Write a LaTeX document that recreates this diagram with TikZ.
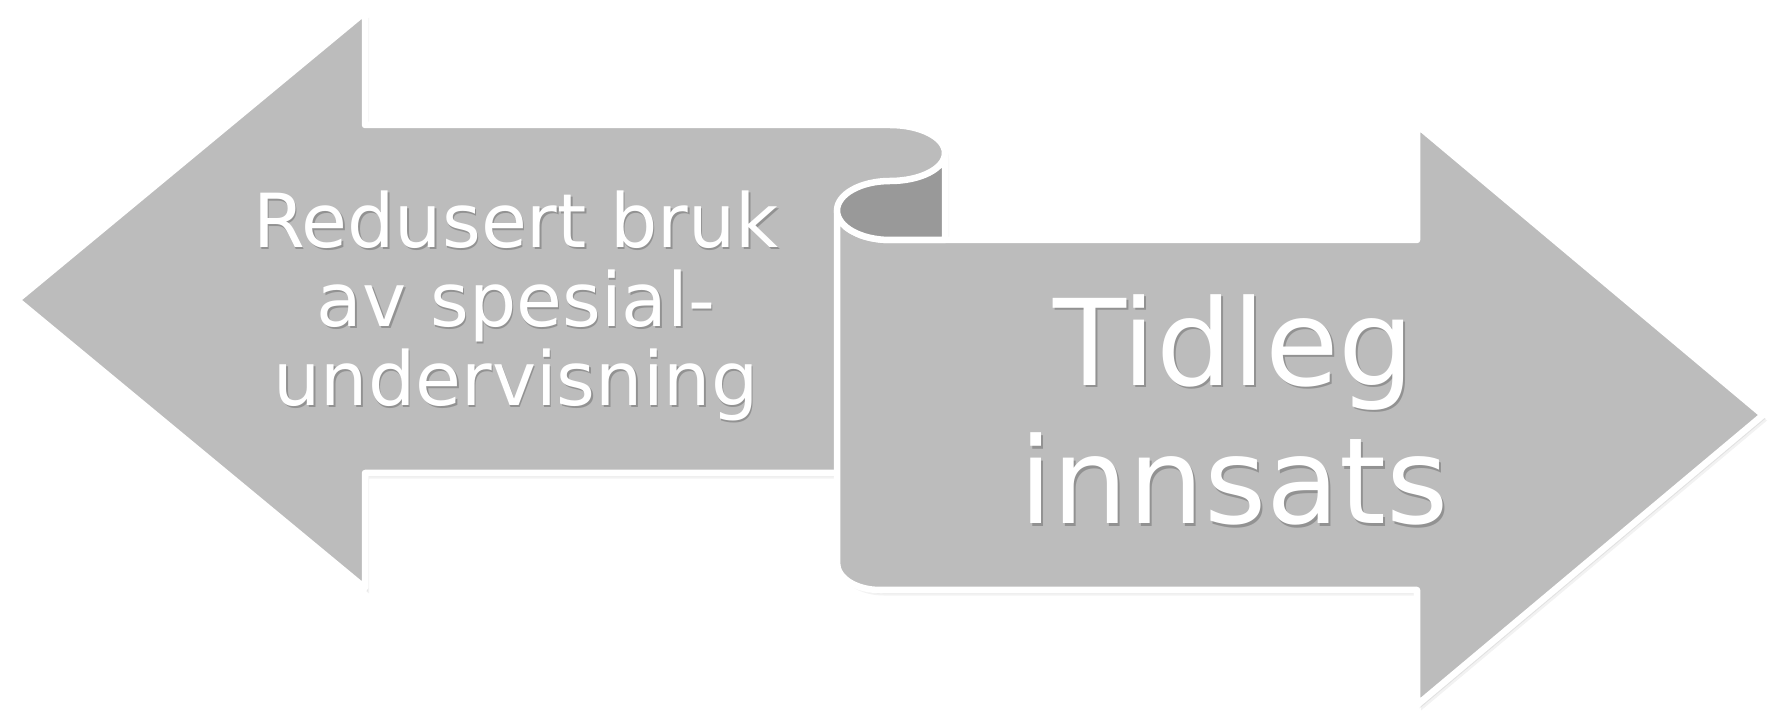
\documentclass[tikz,border=0pt]{standalone}
\usepackage{fontspec}
\setmainfont{DejaVu Sans}
\usetikzlibrary{shadows}
\definecolor{arrowfill}{RGB}{188,188,188}
\definecolor{curlfill}{RGB}{153,153,153}
\begin{document}
\begin{tikzpicture}[x=0.01cm,y=-0.01cm,
  softshadow/.style={
    drop shadow={shadow xshift=0.012cm, shadow yshift=-0.018cm, opacity=0.07, fill=black},
    drop shadow={shadow xshift=0.025cm, shadow yshift=-0.035cm, opacity=0.07, fill=black},
    drop shadow={shadow xshift=0.04cm, shadow yshift=-0.055cm, opacity=0.05, fill=black}},
  arrowbody/.style={fill=arrowfill, draw=white, line width=1.85pt, line join=round, softshadow},
  curlbody/.style={fill=curlfill, draw=white, line width=1.85pt, line join=round},
  lbl/.style={text=white, align=center, inner sep=0pt},
  lblshadow/.style={text=black, opacity=0.22, align=center, inner sep=0pt},
  smallfont/.style={font=\fontsize{21.2}{22.4}\selectfont},
  bigfont/.style={font=\fontsize{34}{39.4}\selectfont}]
\useasboundingbox (0,0) rectangle (1777,716);
% left arrow
\path[arrowbody] (17,300) -- (365,12) -- (365,125) -- (890,125)
  .. controls (920.4,125) and (945,137.5) .. (945,153) -- (945,473)
  -- (365,473) -- (365,588) -- cycle;
% right arrow with rolled left edge
\path[arrowbody] (837,210.5) -- (837,563) .. controls (837,578) and (856,590) .. (880,590)
  -- (1417,590) -- (1417,705) -- (1763,415) -- (1417,125) -- (1417,240) -- (890,240)
  .. controls (860.7,240) and (837,226.8) .. (837,210.5) -- cycle;
% inside of the curl
\path[curlbody] (945,153) .. controls (945,168.5) and (920.4,181) .. (890,181)
  .. controls (860.7,181) and (837,194.2) .. (837,210.5)
  .. controls (837,226.8) and (860.7,240) .. (890,240) -- (945,240) -- cycle;
% texts
\node[lblshadow, smallfont] (lshadow) at (517.5,308) {Redusert bruk\\av spesial-\\undervisning};
\node[lbl, smallfont] (ltext) at (516,306) {Redusert bruk\\av spesial-\\undervisning};
\node[lblshadow, bigfont] (rshadow) at (1236,412.5) {Tidleg\\innsats};
\node[lbl, bigfont] (rtext) at (1234,410) {Tidleg\\innsats};
\end{tikzpicture}
\end{document}
